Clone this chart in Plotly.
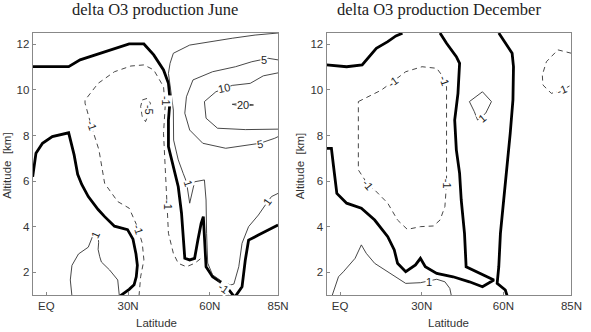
import plotly.graph_objects as go

# ---------------- axes ----------------
lat_ticks = [0, 30, 60, 85]
lat_ticktext = ["EQ", "30N", "60N", "85N"]
alt_ticks = [2, 4, 6, 8, 10, 12]
lat_range = [-5, 85]
alt_range = [1, 12.5]

# ---------------- June: zero contours (thick) ----------------
jun_zero_a_lat = [-5, 8.2, 12.4, 17.8, 25.0, 30.4, 35.8, 39.4, 43.0, 44.8, 45.4, 44.8, 44.8, 46.6,
                  48.4, 49.6, 50.2, 50.8, 52.6, 54.4, 55.6, 56.8, 57.6, 58.0, 58.6, 61.0, 64.6,
                  67.0, 68.8, 69.4, 70.0, 71.8, 73.0, 74.2, 77.8, 81.4, 85]
jun_zero_a_alt = [11.02, 11.02, 11.32, 11.54, 11.83, 12.02, 12.02, 11.54, 10.88, 10.29, 9.56, 8.68,
                  7.51, 6.63, 5.75, 4.59, 3.41, 2.61, 2.54, 2.61, 3.41, 4.15, 4.44, 3.71, 2.24,
                  1.80, 1.51, 1.22, 0.95, 0.95, 1.05, 1.36, 2.54, 3.41, 3.63, 3.85, 4.07]
jun_zero_b_lat = [-5, -3.8, -1.4, 2.2, 8.2, 8.8, 10.2, 11.5, 13.0, 15.4, 19.0, 21.4, 25.0, 29.8,
                  31.8, 32.9, 33.4, 33.0, 32.2, 30.4, 28.5, 27.0]
jun_zero_b_alt = [6.19, 7.22, 7.66, 7.95, 8.12, 7.80, 7.15, 6.30, 5.85, 5.32, 4.75, 4.44, 4.02, 3.87,
                  3.45, 2.80, 2.30, 1.80, 1.45, 1.25, 1.08, 0.95]

# ---------------- June: negative contours (dashed) ----------------
jun_neg1_lat = [34.0, 34.6, 35.8, 35.2, 33.4, 30.4, 26.2, 21.4, 19.3, 16.6, 14.2, 14.2, 19.0, 25.0,
                31.0, 35.8, 39.4, 43.0, 43.6, 43.0, 43.6, 44.2, 44.8, 46.6, 48.4, 51.4, 54.4, 56.8]
jun_neg1_alt = [0.95, 1.80, 2.54, 3.27, 4.00, 4.81, 5.10, 5.90, 7.37, 8.39, 9.42, 9.55, 10.29, 10.80,
                11.05, 11.10, 10.88, 10.14, 9.27, 8.10, 6.63, 5.17, 3.71, 2.83, 2.39, 2.24, 2.39, 2.61]
jun_neg1b_lat = [63.0, 65.2, 67.2]
jun_neg1b_alt = [1.65, 1.30, 0.95]
jun_neg5_lat = [35.2, 37.0, 38.2, 37.6, 36.4, 35.2, 34.6, 35.2]
jun_neg5_alt = [9.56, 9.63, 9.42, 8.98, 8.61, 8.83, 9.27, 9.56]

# ---------------- June: positive contours (thin) ----------------
jun_pos1n_lat = [85, 83.8, 76.6, 68.2, 61.0, 52.6, 46.6, 45.4, 44.8, 46.0, 46.6, 46.7, 48.4, 50.2,
                 51.4, 52.6, 54.4, 58.0, 58.6, 58.8, 59.2, 61.0, 64.6, 67.6, 68.8, 70.6, 71.8, 74.2,
                 77.8, 80.8, 82.6, 85]
jun_pos1n_alt = [12.5, 12.49, 12.41, 12.27, 12.12, 11.97, 11.61, 11.17, 10.73, 9.70, 9.12, 7.80, 6.93,
                 6.34, 5.97, 5.03, 5.97, 6.05, 5.17, 3.71, 2.40, 1.88, 1.58, 1.44, 1.48, 2.24, 3.27,
                 4.00, 4.51, 5.03, 5.32, 5.46]
jun_pos1s_lat = [9.4, 8.8, 9.4, 11.8, 15.4, 16.6, 17.4, 18.2, 19.0, 19.2, 19.0, 19.6, 20.2, 23.2,
                 26.2, 26.8]
jun_pos1s_alt = [0.95, 1.66, 2.30, 2.80, 3.10, 3.45, 3.70, 3.72, 3.65, 3.30, 3.00, 2.68, 2.45, 2.10,
                 1.66, 0.95]
jun_pos5_lat = [85, 81.4, 75.4, 69.4, 61.0, 53.8, 51.4, 50.8, 52.6, 57.4, 65.8, 74.2, 78.4, 83.8, 85]
jun_pos5_alt = [11.32, 11.39, 11.24, 11.02, 10.80, 10.44, 9.70, 8.98, 8.24, 7.66, 7.44, 7.58, 7.66,
                7.88, 7.95]
jun_pos10_lat = [85, 79.6, 74.8, 68.2, 62.2, 58.0, 58.6, 62.8, 73.0, 85]
jun_pos10_alt = [10.75, 10.62, 10.29, 10.20, 9.92, 9.49, 8.76, 8.32, 8.26, 8.28]
jun_pos20_lat = [68.2, 72.0, 76.0, 72.0, 68.2]
jun_pos20_alt = [9.37, 9.42, 9.34, 9.28, 9.37]

# ---------------- December: zero contours (thick) ----------------
dec_zero_a_lat = [-5, 2.4, 8.1, 10.3, 13.3, 17.5, 20.5, 22.9]
dec_zero_a_alt = [11.10, 11.02, 11.10, 11.39, 11.83, 12.12, 12.37, 12.49]
dec_zero_b_lat = [-5, -3.2, -2.4, -1.2, 2.4, 7.8, 12.7, 17.5, 19.9, 21.1, 24.1, 27.7, 29.5, 31.3,
                  35.5, 41.5, 47.5, 52.3, 56.5, 51.1, 46.3, 45.7, 44.5, 43.9, 42.7, 42.1, 43.3,
                  43.9, 42.7, 39.1, 36.7]
dec_zero_b_alt = [7.44, 7.44, 6.63, 5.46, 5.03, 4.81, 4.29, 3.56, 2.98, 2.39, 2.02, 2.32, 2.61, 2.24,
                  1.95, 1.80, 1.58, 1.36, 1.66, 1.95, 2.24, 3.71, 5.17, 6.34, 7.37, 8.68, 9.85,
                  11.17, 11.46, 12.05, 12.5]
dec_zero_c_lat = [58.3, 60.7, 63.2, 63.7, 63.5, 62.5, 61.4, 60.1, 58.9, 58.3, 57.7, 60.7, 61.4]
dec_zero_c_alt = [12.5, 12.05, 11.61, 11.02, 9.56, 8.10, 6.63, 5.17, 3.71, 2.24, 1.51, 1.22, 0.95]

# ---------------- December: negative contours (dashed) ----------------
dec_neg1_lat = [6.7, 15.1, 19.3, 24.1, 30.1, 35.5, 37.3, 38.3, 39.1, 39.1, 39.1, 38.5, 36.7, 34.3,
                29.5, 24.7, 21.1, 17.5, 12.7, 10.3, 6.7, 6.7, 6.7]
dec_neg1_alt = [9.49, 9.99, 10.36, 10.80, 11.02, 10.95, 10.66, 10.36, 10.14, 9.56, 5.90, 4.88, 4.29,
                4.03, 4.00, 3.88, 4.29, 5.03, 5.61, 5.83, 6.49, 8.10, 9.49]
dec_neg1n_lat = [85, 80.0, 75.8, 74.3, 74.5, 77.6, 81.5, 85]
dec_neg1n_alt = [11.61, 11.76, 11.24, 10.66, 10.22, 9.85, 9.99, 10.22]

# ---------------- December: positive contours (thin) ----------------
dec_pos1a_lat = [47.5, 52.3, 55.6, 53.5, 50.5, 49.3, 47.5]
dec_pos1a_alt = [9.49, 9.92, 9.49, 8.98, 8.68, 9.05, 9.49]
dec_pos1b_lat = [-3.0, -0.6, 1.2, 5.5, 7.8, 9.6, 12.7, 17.5, 24.1, 29.5, 35.5, 38.5, 40.3, 40.9]
dec_pos1b_alt = [0.95, 1.80, 2.02, 2.61, 3.20, 2.83, 2.39, 2.02, 1.51, 1.54, 1.69, 1.58, 1.29, 0.95]

# ---------------- contour labels (lat, alt, text, angle) ----------------
jun_labels = [
    (16.6, 8.45, "-1", 72), (33.8, 3.85, "-1", 72), (43.7, 9.5, "-1", 90),
    (44.6, 4.95, "-1", 90), (65.0, 1.32, "-1", 35), (37.7, 9.12, "-5", 90),
    (51.9, 5.90, "1", 72), (80.9, 5.10, "1", -55), (18.1, 3.62, "1", -65),
    (79.9, 11.33, "5", 0), (78.5, 7.63, "5", -10), (65.2, 10.1, "10", -12),
    (72.0, 9.36, "20", 0),
]
dec_labels = [
    (19.3, 10.36, "-1", -36), (38.3, 10.38, "-1", 70), (39.1, 5.90, "-1", 90),
    (10.3, 5.83, "-1", 50), (81.4, 9.99, "-1", -22), (52.3, 8.78, "1", -40),
    (32.5, 1.58, "1", 0),
]

THICK = dict(color="black", width=2.8)
THIN = dict(color="#333333", width=0.9)
DASHED = dict(color="#333333", width=0.9, dash="5px,4px")

fig = go.Figure()


def add_line(lat, alt, style, xa, ya):
    fig.add_trace(go.Scatter(x=lat, y=alt, mode="lines", line=style, xaxis=xa, yaxis=ya,
                             showlegend=False, hoverinfo="skip"))


jun_lines = [
    (jun_zero_a_lat, jun_zero_a_alt, THICK), (jun_zero_b_lat, jun_zero_b_alt, THICK),
    (jun_neg1_lat, jun_neg1_alt, DASHED), (jun_neg1b_lat, jun_neg1b_alt, DASHED),
    (jun_neg5_lat, jun_neg5_alt, DASHED),
    (jun_pos1n_lat, jun_pos1n_alt, THIN), (jun_pos1s_lat, jun_pos1s_alt, THIN),
    (jun_pos5_lat, jun_pos5_alt, THIN), (jun_pos10_lat, jun_pos10_alt, THIN),
    (jun_pos20_lat, jun_pos20_alt, THIN),
]
dec_lines = [
    (dec_zero_a_lat, dec_zero_a_alt, THICK), (dec_zero_b_lat, dec_zero_b_alt, THICK),
    (dec_zero_c_lat, dec_zero_c_alt, THICK),
    (dec_neg1_lat, dec_neg1_alt, DASHED), (dec_neg1n_lat, dec_neg1n_alt, DASHED),
    (dec_pos1a_lat, dec_pos1a_alt, THIN), (dec_pos1b_lat, dec_pos1b_alt, THIN),
]
for la, al, st in jun_lines:
    add_line(la, al, st, "x", "y")
for la, al, st in dec_lines:
    add_line(la, al, st, "x2", "y2")

annotations = []
for xr, yr, labels in (("x", "y", jun_labels), ("x2", "y2", dec_labels)):
    for la, al, txt, ang in labels:
        annotations.append(dict(x=la, y=al, xref=xr, yref=yr, text=txt, textangle=ang,
                                showarrow=False, bgcolor="white", borderpad=0,
                                font=dict(family="Liberation Sans, Arial", size=11, color="#222")))

# titles and axis labels
title_font = dict(family="Liberation Serif, serif", size=16.5, color="#222")
label_font = dict(family="Liberation Sans, Arial", size=11.5, color="#333")
annotations += [
    dict(text="delta O3 production June", x=158 / 591, y=1 - 9 / 332, xref="paper", yref="paper",
         showarrow=False, font=title_font, xanchor="center", yanchor="middle"),
    dict(text="delta O3 production December", x=447.5 / 591, y=1 - 9 / 332, xref="paper",
         yref="paper", showarrow=False, font=title_font, xanchor="center", yanchor="middle"),
    dict(text="Latitude", x=159 / 591, y=1 - 323 / 332, xref="paper", yref="paper",
         showarrow=False, font=label_font, xanchor="center", yanchor="middle"),
    dict(text="Latitude", x=457.5 / 591, y=1 - 323 / 332, xref="paper", yref="paper",
         showarrow=False, font=label_font, xanchor="center", yanchor="middle"),
    dict(text="Altitude  [km]", x=7 / 591, y=1 - 166 / 332, xref="paper", yref="paper",
         showarrow=False, font=label_font, textangle=-90, xanchor="center", yanchor="middle"),
    dict(text="Altitude  [km]", x=306 / 591, y=1 - 166 / 332, xref="paper", yref="paper",
         showarrow=False, font=label_font, textangle=-90, xanchor="center", yanchor="middle"),
]

axis_common = dict(showline=True, linecolor="#888888", linewidth=1, mirror=True, ticks="inside",
                   ticklen=3, tickcolor="#888888", showgrid=False, zeroline=False,
                   tickfont=dict(family="Liberation Sans, Arial", size=11.5, color="#333"))
xcommon = dict(axis_common, range=lat_range, tickvals=lat_ticks, ticktext=lat_ticktext)
ycommon = dict(axis_common, range=alt_range, tickvals=alt_ticks)

fig.update_layout(
    width=591, height=332, margin=dict(l=0, r=0, t=0, b=0),
    paper_bgcolor="white", plot_bgcolor="white",
    xaxis=dict(xcommon, domain=[33.3 / 591, 283.3 / 591], anchor="y"),
    yaxis=dict(ycommon, domain=[1 - 295 / 332, 1 - 33 / 332], anchor="x"),
    xaxis2=dict(xcommon, domain=[332.7 / 591, 582.3 / 591], anchor="y2"),
    yaxis2=dict(ycommon, domain=[1 - 295 / 332, 1 - 33 / 332], anchor="x2"),
    annotations=annotations,
)

fig.write_html("out.html")
